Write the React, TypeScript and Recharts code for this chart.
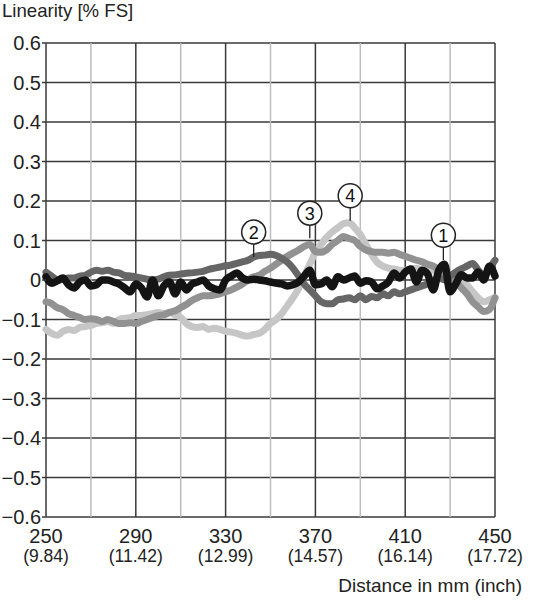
import React from "react";
import {
  LineChart,
  Line,
  XAxis,
  YAxis,
  CartesianGrid,
  ReferenceDot,
} from "recharts";

const FONT = "'Liberation Sans', Arial, sans-serif";

// distance in mm, one sample every 2.5 mm
const distance = [
  250, 252.5, 255, 257.5, 260, 262.5, 265, 267.5, 270, 272.5,
  275, 277.5, 280, 282.5, 285, 287.5, 290, 292.5, 295, 297.5,
  300, 302.5, 305, 307.5, 310, 312.5, 315, 317.5, 320, 322.5,
  325, 327.5, 330, 332.5, 335, 337.5, 340, 342.5, 345, 347.5,
  350, 352.5, 355, 357.5, 360, 362.5, 365, 367.5, 370, 372.5,
  375, 377.5, 380, 382.5, 385, 387.5, 390, 392.5, 395, 397.5,
  400, 402.5, 405, 407.5, 410, 412.5, 415, 417.5, 420, 422.5,
  425, 427.5, 430, 432.5, 435, 437.5, 440, 442.5, 445, 447.5,
  450,
];

// curve 1 (black)
const sensor1 = [
  0.008, -0.008, -0.002, 0.005, -0.012, -0.02, -0.005, 0, -0.015, -0.012,
  0, 0, -0.005, -0.01, -0.02, -0.03, -0.01, -0.02, -0.043, 0,
  -0.04, -0.015, -0.005, -0.035, -0.005, -0.025, -0.01, -0.005, 0, -0.015,
  -0.022, -0.025, 0, 0.01, 0.018, 0.005, 0, 0.002, 0, -0.002,
  -0.005, -0.008, -0.01, -0.015, -0.012, -0.005, 0.01, 0.025, -0.012, -0.01,
  0, -0.017, 0.008, 0, 0.005, 0.01, -0.008, -0.002, -0.005, -0.022,
  -0.015, -0.005, 0.018, 0.005, 0.02, 0.028, -0.005, 0.025, 0.015, -0.025,
  0.025, 0.04, -0.03, -0.01, 0.013, 0.005, 0.005, 0.02, 0, 0.035,
  0.01,
];

// curve 2 (dark grey)
const sensor2 = [
  0.02, 0.01, 0, 0.002, 0.005, 0.005, 0.01, 0.012, 0.02, 0.025,
  0.022, 0.025, 0.02, 0.018, 0.012, 0.01, 0.008, 0.005, 0.002, 0,
  0.002, 0.008, 0.012, 0.013, 0.015, 0.017, 0.018, 0.02, 0.022, 0.027,
  0.03, 0.033, 0.036, 0.038, 0.042, 0.046, 0.05, 0.058, 0.062, 0.063,
  0.065, 0.062, 0.055, 0.045, 0.03, 0.01, -0.01, -0.025, -0.04, -0.055,
  -0.06, -0.06, -0.05, -0.048, -0.045, -0.05, -0.04, -0.05, -0.042, -0.045,
  -0.035, -0.04, -0.03, -0.035, -0.03, -0.025, -0.02, -0.015, -0.01, -0.005,
  0.005, 0, 0.01, 0.02, 0.028, 0.035, 0.042, 0.025, 0.012, 0.03,
  0.05,
];

// curve 3 (mid grey)
const sensor3 = [
  -0.055, -0.06, -0.07, -0.075, -0.085, -0.09, -0.095, -0.1, -0.098, -0.1,
  -0.105, -0.1, -0.105, -0.11, -0.11, -0.108, -0.11, -0.105, -0.1, -0.095,
  -0.09, -0.088, -0.082, -0.078, -0.07, -0.062, -0.052, -0.045, -0.04, -0.04,
  -0.038, -0.035, -0.03, -0.025, -0.018, -0.01, 0, 0.008, 0.012, 0.022,
  0.03, 0.04, 0.05, 0.06, 0.068, 0.076, 0.085, 0.09, 0.072, 0.07,
  0.076, 0.09, 0.1, 0.11, 0.105, 0.1, 0.085, 0.076, 0.072, 0.07,
  0.07, 0.068, 0.07, 0.065, 0.06, 0.055, 0.05, 0.046, 0.04, 0.035,
  0.025, 0.015, 0.008, -0.002, -0.02, -0.035, -0.055, -0.068, -0.08, -0.075,
  -0.045,
];

// curve 4 (light grey)
const sensor4 = [
  -0.125, -0.135, -0.14, -0.13, -0.125, -0.128, -0.12, -0.118, -0.115, -0.11,
  -0.108, -0.105, -0.11, -0.1, -0.097, -0.095, -0.09, -0.09, -0.088, -0.085,
  -0.082, -0.085, -0.083, -0.088, -0.095, -0.11, -0.118, -0.12, -0.118, -0.125,
  -0.122, -0.125, -0.13, -0.132, -0.135, -0.14, -0.142, -0.138, -0.135, -0.125,
  -0.11, -0.1, -0.085, -0.065, -0.045, -0.022, 0.01, 0.04, 0.07, 0.09,
  0.108, 0.122, 0.132, 0.143, 0.145, 0.132, 0.115, 0.09, 0.065, 0.045,
  0.035, 0.03, 0.028, 0.025, 0.025, 0.028, 0.03, 0.025, 0.025, 0.025,
  0.022, 0.02, 0.015, 0.01, 0.002, -0.012, -0.03, -0.045, -0.055, -0.05,
  -0.045,
];

const xTicks = [250, 270, 290, 310, 330, 350, 370, 390, 410, 430, 450];
const mmLabels = ["250", "290", "330", "370", "410", "450"];
const inchLabels = ["(9.84)", "(11.42)", "(12.99)", "(14.57)", "(16.14)", "(17.72)"];
const yTicks = [0.6, 0.5, 0.4, 0.3, 0.2, 0.1, 0, -0.1, -0.2, -0.3, -0.4, -0.5, -0.6];

// circled curve numbers and the point each one points at
const markerLabels = ["1", "2", "3", "4"];
const markerX = [427, 342.5, 367.5, 385.5];
const markerY = [0.05, 0.058, 0.106, 0.15];

const data = distance.map((d, i) => ({
  distance: d,
  s1: sensor1[i],
  s2: sensor2[i],
  s3: sensor3[i],
  s4: sensor4[i],
}));

const formatY = (v: number) => {
  if (Math.abs(v) < 1e-9) return "0";
  return v < 0 ? `\u2212${Math.abs(v).toFixed(1)}` : v.toFixed(1);
};

function DistanceTick(props: any) {
  const { x, y, payload } = props;
  const i = mmLabels.indexOf(String(payload.value));
  if (i < 0) return null;
  return (
    <g fontFamily={FONT} fill="#222">
      <text x={x} y={y + 26} textAnchor="middle" fontSize={20} fill="#222">
        {mmLabels[i]}
      </text>
      <text x={x} y={y + 45} textAnchor="middle" fontSize={17.5} fill="#222">
        {inchLabels[i]}
      </text>
    </g>
  );
}

function gridLine(props: any) {
  const { x1, y1, x2, y2, index } = props;
  const major = index % 2 === 0;
  return (
    <line
      key={`v-${index}`}
      x1={x1}
      y1={y1}
      x2={x2}
      y2={y2}
      stroke={major ? "#3a3a3a" : "#bdbdbd"}
      strokeWidth={1.5}
    />
  );
}

const markerShape = (label: string) => (props: any) => {
  const { cx, cy } = props;
  return (
    <g>
      <line x1={cx} y1={cy} x2={cx} y2={cy - 13} stroke="#222" strokeWidth={1.3} />
      <circle cx={cx} cy={cy - 25} r={12} fill="#fff" stroke="#222" strokeWidth={1.5} />
      <text
        x={cx}
        y={cy - 25}
        dy="0.36em"
        textAnchor="middle"
        fontSize={18}
        fontFamily={FONT}
        fill="#111"
      >
        {label}
      </text>
    </g>
  );
};

export default function App() {
  return (
    <div style={{ position: "absolute", left: 0, top: 0, width: 535, height: 600, background: "#fff" }}>
      <LineChart
        width={535}
        height={600}
        data={data}
        margin={{ top: 43, right: 40, bottom: 33, left: 6 }}
      >
        <CartesianGrid stroke="#3a3a3a" strokeWidth={1.5} vertical={gridLine} />
        <XAxis
          dataKey="distance"
          type="number"
          domain={[250, 450]}
          ticks={xTicks}
          interval={0}
          tick={<DistanceTick />}
          tickLine={false}
          axisLine={false}
          tickSize={0}
          tickMargin={0}
          height={50}
        />
        <YAxis
          type="number"
          domain={[-0.6, 0.6]}
          ticks={yTicks}
          interval={0}
          width={40}
          tickSize={4}
          tickMargin={1}
          tickFormatter={formatY}
          tickLine={{ stroke: "#3a3a3a", strokeWidth: 1.5 }}
          axisLine={false}
          tick={{ fontSize: 20, fill: "#222", fontFamily: FONT }}
        />
        <Line dataKey="s4" type="monotone" stroke="#c6c6c6" strokeWidth={7} dot={false} isAnimationActive={false} strokeLinejoin="round" strokeLinecap="round" />
        <Line dataKey="s3" type="monotone" stroke="#929292" strokeWidth={7} dot={false} isAnimationActive={false} strokeLinejoin="round" strokeLinecap="round" />
        <Line dataKey="s2" type="monotone" stroke="#666666" strokeWidth={7} dot={false} isAnimationActive={false} strokeLinejoin="round" strokeLinecap="round" />
        <Line dataKey="s1" type="monotone" stroke="#141414" strokeWidth={7.5} dot={false} isAnimationActive={false} strokeLinejoin="round" strokeLinecap="round" />
        {markerLabels.map((label, i) => (
          <ReferenceDot
            key={label}
            x={markerX[i]}
            y={markerY[i]}
            r={0}
            ifOverflow="visible"
            shape={markerShape(label)}
          />
        ))}
      </LineChart>
      <svg
        width={535}
        height={600}
        style={{ position: "absolute", left: 0, top: 0, pointerEvents: "none" }}
      >
        <text x={2} y={17} fontSize={18.6} fontFamily={FONT} fill="#222">
          Linearity [% FS]
        </text>
        <text x={522} y={592} textAnchor="end" fontSize={19} fontFamily={FONT} fill="#222">
          Distance in mm (inch)
        </text>
      </svg>
    </div>
  );
}
